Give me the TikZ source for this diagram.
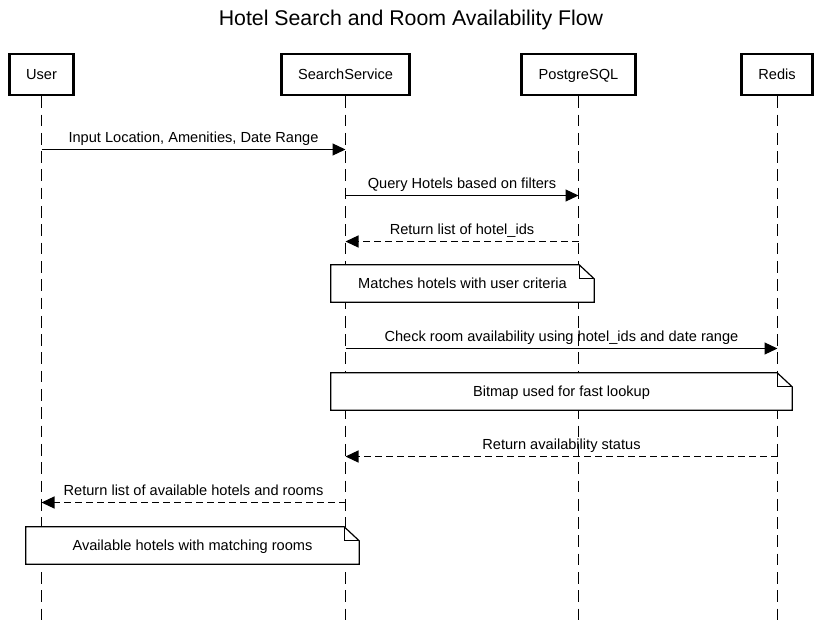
\documentclass[tikz,border=0pt]{standalone}
\usepackage{fontspec}
\setmainfont{Liberation Sans}
\usetikzlibrary{arrows.meta}
\begin{document}
\begin{tikzpicture}[x=1pt,y=-1pt,
  actor/.style={draw=black,line width=2.4pt,minimum width=#1,minimum height=41pt,
    inner sep=0pt,text height=10.5pt,text depth=0pt,font=\fontsize{14.6}{17}\selectfont},
  life/.style={line width=1.2pt,dash pattern=on 11.7pt off 6.6pt},
  msg/.style={line width=1.2pt,-{Triangle[length=13pt,width=12pt]}},
  reply/.style={msg,dash pattern=on 6.5pt off 4.5pt},
  lbl/.style={anchor=base,yshift=6.8pt,inner sep=0pt,font=\fontsize{14.6}{17}\selectfont},
  notebox/.style={fill=white,inner sep=0pt,minimum height=37pt,minimum width=#1,
    text height=10.5pt,text depth=1.5pt,font=\fontsize{14.6}{17}\selectfont},
  noteline/.style={draw=black,line width=1.2pt,line join=miter}
]
\useasboundingbox[fill=white] (0,0) rectangle (822,621);

\node[anchor=base,font=\fontsize{21.3}{25}\selectfont] (title) at (411,25.5) {Hotel Search and Room Availability Flow};

\node[actor=64pt]  (user) at (41.5,74.5)  {User};
\node[actor=128pt] (ss)   at (345.5,74.5) {SearchService};
\node[actor=114pt] (pg)   at (578.5,74.5) {PostgreSQL};
\node[actor=71pt]  (rd)   at (777,74.5) {Redis};

\foreach \p in {user,ss,pg}
  \draw[life] (\p.south) -- (\p.south |- 0,621);
\draw[life] ([xshift=0.5pt]rd.south) -- ([xshift=0.5pt]rd.south |- 0,621);

% messages
\draw[msg] (user.south |- 0,149.5) -- node[lbl] {Input Location, Amenities, Date Range} (ss.south |- 0,149.5);
\draw[msg] (ss.south |- 0,195.5) -- node[lbl] {Query Hotels based on filters} (pg.south |- 0,195.5);
\draw[reply] (pg.south |- 0,241.5) -- node[lbl] {Return list of hotel\_ids} (ss.south |- 0,241.5);

\node[notebox=263pt] (n1) at (462.5,283.5) {Matches hotels with user criteria};
\draw[noteline] (n1.north west) -- ([xshift=-15pt]n1.north east) -- ([yshift=-14pt]n1.north east)
  -- (n1.south east) -- (n1.south west) -- cycle;
\draw[noteline] ([xshift=-15pt]n1.north east) |- ([yshift=-14pt]n1.north east);

\draw[msg] (ss.south |- 0,348.5) -- node[lbl] {Check room availability using hotel\_ids and date range} ([xshift=0.5pt]rd.south |- 0,348.5);

\node[notebox=461pt] (n2) at (561.5,391.5) {Bitmap used for fast lookup};
\draw[noteline] (n2.north west) -- ([xshift=-15pt]n2.north east) -- ([yshift=-14pt]n2.north east)
  -- (n2.south east) -- (n2.south west) -- cycle;
\draw[noteline] ([xshift=-15pt]n2.north east) |- ([yshift=-14pt]n2.north east);

\draw[reply] ([xshift=0.5pt]rd.south |- 0,456.5) -- node[lbl] {Return availability status} (ss.south |- 0,456.5);
\draw[reply] (ss.south |- 0,502.5) -- node[lbl] {Return list of available hotels and rooms} (user.south |- 0,502.5);

\node[notebox=333pt] (n3) at (192.5,545.5) {Available hotels with matching rooms};
\draw[noteline] (n3.north west) -- ([xshift=-15pt]n3.north east) -- ([yshift=-14pt]n3.north east)
  -- (n3.south east) -- (n3.south west) -- cycle;
\draw[noteline] ([xshift=-15pt]n3.north east) |- ([yshift=-14pt]n3.north east);
\end{tikzpicture}
\end{document}
